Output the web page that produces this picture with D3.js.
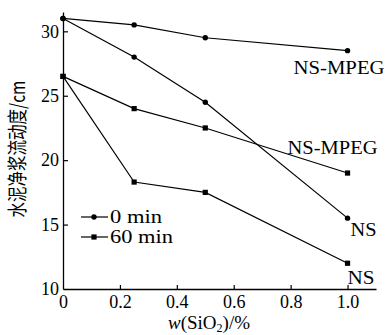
<!DOCTYPE html>
<html>
<head>
<meta charset="utf-8">
<script src="https://cdn.jsdelivr.net/npm/d3@7"></script>
<style>
  body { margin: 0; background: #fff; }
  text { font-family: "Liberation Serif", "DejaVu Serif", serif; fill: #000; }
</style>
</head>
<body>
<div id="chart"></div>
<script>
// data
var xValues = [0, 0.25, 0.5, 1.0];
var mpeg0 = [31, 30.5, 29.5, 28.5];
var ns0 = [31, 28, 24.5, 15.5];
var mpeg60 = [26.5, 24, 22.5, 19];
var ns60 = [26.5, 18.3, 17.5, 12];
var xTicks = [0, 0.2, 0.4, 0.6, 0.8, 1.0];
var yTicks = [10, 15, 20, 25, 30];

var svgWidth = 388;
var svgHeight = 335;
var margin = { top: 12, right: 12, bottom: 46, left: 63 };
var width = svgWidth - margin.left - margin.right;
var height = svgHeight - margin.top - margin.bottom;

var serif = "'Liberation Serif', 'DejaVu Serif', serif";

var svg = d3.select("#chart")
  .append("svg")
  .attr("width", svgWidth)
  .attr("height", svgHeight);

var chartGroup = svg.append("g")
  .attr("transform", `translate(${margin.left}, ${margin.top})`);

var xScale = d3.scaleLinear().domain([0, 1.1]).range([0, width]);
var yScale = d3.scaleLinear().domain([10, 31.5]).range([height, 0]);

// axes, ticks pointing inward
var bottomAxis = d3.axisBottom(xScale)
  .tickValues(xTicks)
  .tickSizeInner(-4)
  .tickSizeOuter(0)
  .tickPadding(6)
  .tickFormat(d => d === 0 ? "0" : d3.format(".1f")(d));

var leftAxis = d3.axisLeft(yScale)
  .tickValues(yTicks)
  .tickSizeInner(-5)
  .tickSizeOuter(0)
  .tickPadding(4);

var xAxis = chartGroup.append("g")
  .attr("transform", `translate(0, ${height})`)
  .call(bottomAxis);

var yAxis = chartGroup.append("g")
  .call(leftAxis);

[xAxis, yAxis].forEach(function(ax) {
  ax.attr("font-family", null);
  ax.select(".domain").attr("stroke", "#000").attr("stroke-width", 1.3);
  ax.selectAll(".tick line").attr("stroke", "#000").attr("stroke-width", 1.2);
  ax.selectAll(".tick text")
    .style("font-family", serif)
    .style("font-size", "18px")
    .attr("fill", "#000");
});
// ticks at the origin sit on the other axis
xAxis.selectAll(".tick line").filter(d => d === 0).remove();
yAxis.selectAll(".tick line").filter(d => d === 10).remove();

var line = d3.line()
  .x((d, i) => xScale(xValues[i]))
  .y(d => yScale(d));

function drawSeries(values, marker) {
  chartGroup.append("path")
    .datum(values)
    .attr("fill", "none")
    .attr("stroke", "#000")
    .attr("stroke-width", 1.2)
    .attr("d", line);

  if (marker === "circle") {
    chartGroup.selectAll(null)
      .data(values)
      .enter()
      .append("circle")
      .attr("cx", (d, i) => xScale(xValues[i]))
      .attr("cy", d => yScale(d))
      .attr("r", 2.7)
      .attr("fill", "#000");
  } else {
    chartGroup.selectAll(null)
      .data(values)
      .enter()
      .append("rect")
      .attr("x", (d, i) => xScale(xValues[i]) - 2.6)
      .attr("y", d => yScale(d) - 2.6)
      .attr("width", 5.2)
      .attr("height", 5.2)
      .attr("fill", "#000");
  }
}

drawSeries(mpeg0, "circle");
drawSeries(ns0, "circle");
drawSeries(mpeg60, "square");
drawSeries(ns60, "square");

// series labels
var labels = [
  { text: "NS-MPEG", x: 1.0, y: mpeg0[3], dx: -54, dy: 23, len: 91 },
  { text: "NS-MPEG", x: 1.0, y: mpeg60[3], dx: -60, dy: -19, len: 90 },
  { text: "NS", x: 1.0, y: ns0[3], dx: 3, dy: 18, len: 26 },
  { text: "NS", x: 1.0, y: ns60[3], dx: 0, dy: 21, len: 27 }
];

chartGroup.selectAll(".seriesLabel")
  .data(labels)
  .enter()
  .append("text")
  .attr("class", "seriesLabel")
  .attr("x", d => xScale(d.x) + d.dx)
  .attr("y", d => yScale(d.y) + d.dy)
  .attr("textLength", d => d.len)
  .attr("lengthAdjust", "spacingAndGlyphs")
  .style("font-size", "19px")
  .text(d => d.text);

// legend
var legend = chartGroup.append("g")
  .attr("transform", "translate(18, 205)");

[["0 min", "circle", 52], ["60 min", "square", 63]].forEach(function(item, i) {
  var g = legend.append("g").attr("transform", `translate(0, ${i * 20})`);
  g.append("line")
    .attr("x1", 0).attr("x2", 27)
    .attr("stroke", "#000").attr("stroke-width", 1.2);
  if (item[1] === "circle") {
    g.append("circle").attr("cx", 13).attr("r", 2.7).attr("fill", "#000");
  } else {
    g.append("rect").attr("x", 10.4).attr("y", -2.6)
      .attr("width", 5.2).attr("height", 5.2).attr("fill", "#000");
  }
  g.append("text")
    .attr("x", 29)
    .attr("y", 6)
    .attr("textLength", item[2])
    .attr("lengthAdjust", "spacingAndGlyphs")
    .style("font-size", "19px")
    .text(item[0]);
});

// axis titles
var xTitle = chartGroup.append("text")
  .attr("x", 105)
  .attr("y", height + 40)
  .style("font-size", "19px");
xTitle.append("tspan").attr("font-style", "italic").text("w");
xTitle.append("tspan").text("(SiO");
xTitle.append("tspan").style("font-size", "12px").attr("dy", 3).text("2");
xTitle.append("tspan").attr("dy", -3).text(")/%");

svg.append("text")
  .attr("transform", "translate(16, 149) rotate(-90) scale(1, 1.3)")
  .attr("text-anchor", "middle")
  .attr("dominant-baseline", "central")
  .style("font-size", "15.5px")
  .style("font-family", "'Noto Sans CJK SC', sans-serif")
  .text("水泥净浆流动度/cm");
</script>
</body>
</html>
